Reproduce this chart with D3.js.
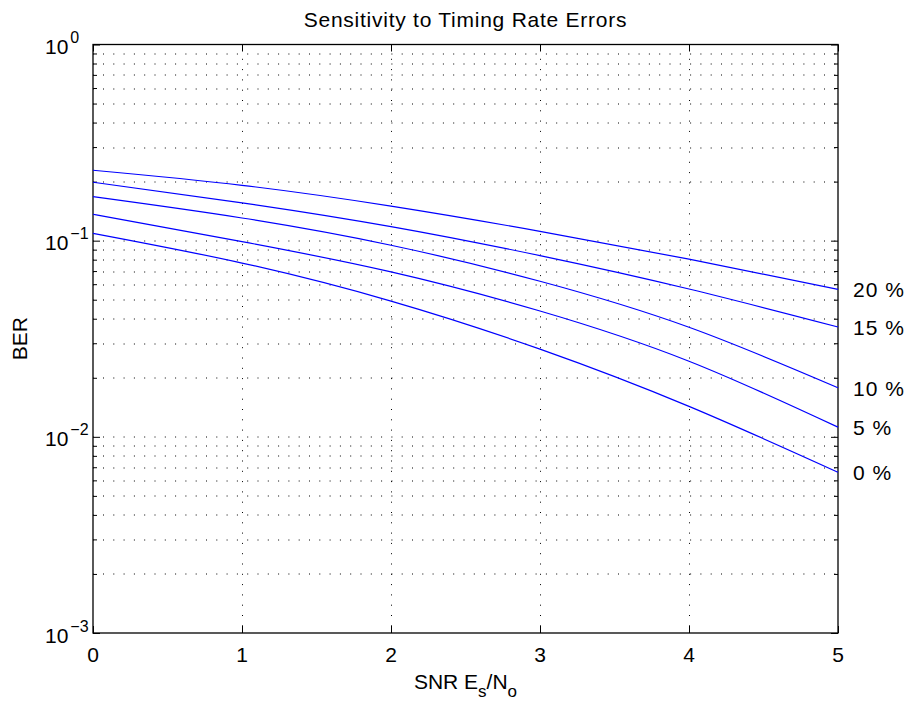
<!DOCTYPE html>
<html>
<head>
<meta charset="utf-8">
<script src="https://cdn.jsdelivr.net/npm/d3@7"></script>
<style>
  body { margin: 0; background: #fff; }
  text { font-family: "Liberation Sans", Arial, Helvetica, sans-serif; fill: #000; }
</style>
</head>
<body>
<div id="chart-area"></div>
<script>
// SNR values (x) and BER curves for each timing rate error
var snr = [0, 1, 2, 3, 4, 5];
var ber20 = [0.2285, 0.1915, 0.150, 0.1116, 0.0805, 0.0565];
var ber15 = [0.1985, 0.156, 0.118, 0.0839, 0.0567, 0.0363];
var ber10 = [0.1676, 0.1305, 0.0948, 0.0621, 0.0362, 0.0178];
var ber05 = [0.1364, 0.0989, 0.0693, 0.0438, 0.0243, 0.0112];
var ber00 = [0.109, 0.0769, 0.0492, 0.0280, 0.0143, 0.0066];
var curveLabels = ["20 %", "15 %", "10 %", "5 %", "0 %"];
var xTicks = [0, 1, 2, 3, 4, 5];
var yExponents = [0, -1, -2, -3];

var series = [ber20, ber15, ber10, ber05, ber00];

var margin = { left: 93, right: 70, top: 44.5, bottom: 69 },
    width = 908 - margin.left - margin.right,
    height = 702 - margin.top - margin.bottom;

var svg = d3.select("#chart-area").append("svg")
    .attr("width", 908)
    .attr("height", 702);

var g = svg.append("g")
    .attr("transform", "translate(" + margin.left + "," + margin.top + ")");

// Scales
var x = d3.scaleLinear().domain([0, 5]).range([0, width]);
var y = d3.scaleLog().domain([1e-3, 1]).range([height, 0]);

// minor values for log grid
var minorVals = [];
yExponents.slice(1).forEach(function (e) {
    for (var k = 2; k <= 9; k++) minorVals.push(k * Math.pow(10, e));
});
var majorVals = yExponents.map(function (e) { return Math.pow(10, e); });

var dots = "1,9.3";

// horizontal grid (major + minor)
g.selectAll("line.hgrid")
    .data(minorVals.concat(majorVals.slice(1, 3)))
    .enter().append("line")
    .attr("class", "hgrid")
    .attr("x1", 0).attr("x2", width)
    .attr("y1", function (d) { return Math.round(y(d)) + 0.5; })
    .attr("y2", function (d) { return Math.round(y(d)) + 0.5; })
    .attr("stroke", "#000")
    .attr("stroke-dasharray", dots)
    .attr("stroke-dashoffset", -10);

// vertical grid
g.selectAll("line.vgrid")
    .data(xTicks.slice(1, 5))
    .enter().append("line")
    .attr("class", "vgrid")
    .attr("y1", 0).attr("y2", height)
    .attr("x1", function (d) { return Math.round(x(d)) + 0.5; })
    .attr("x2", function (d) { return Math.round(x(d)) + 0.5; })
    .attr("stroke", "#000")
    .attr("stroke-dasharray", dots)
    .attr("stroke-dashoffset", -4);

// ticks on all four sides (inward)
var xAxisBottom = d3.axisBottom(x).tickValues(xTicks).tickSize(-7).tickFormat("");
var xAxisTop = d3.axisTop(x).tickValues(xTicks).tickSize(-7).tickFormat("");
var yMajL = d3.axisLeft(y).tickValues(majorVals).tickSize(-7).tickFormat("");
var yMajR = d3.axisRight(y).tickValues(majorVals).tickSize(-7).tickFormat("");
var yMinL = d3.axisLeft(y).tickValues(minorVals).tickSize(-4).tickFormat("");
var yMinR = d3.axisRight(y).tickValues(minorVals).tickSize(-4).tickFormat("");

g.append("g").attr("transform", "translate(0," + height + ")").call(xAxisBottom);
g.append("g").call(xAxisTop);
g.append("g").call(yMajL);
g.append("g").call(yMinL);
g.append("g").attr("transform", "translate(" + width + ",0)").call(yMajR);
g.append("g").attr("transform", "translate(" + width + ",0)").call(yMinR);

g.selectAll(".domain").remove();
g.selectAll(".tick line").attr("stroke", "#000");

// box
g.append("rect")
    .attr("x", 0).attr("y", 0)
    .attr("width", width).attr("height", height)
    .attr("fill", "none")
    .attr("stroke", "#000")
    .attr("stroke-width", 1.3);

// curves
var lineGenerator = d3.line()
    .x(function (d, i) { return x(snr[i]); })
    .y(function (d) { return y(d); })
    .curve(d3.curveNatural);

g.selectAll("path.line")
    .data(series)
    .enter().append("path")
    .attr("class", "line")
    .attr("fill", "none")
    .attr("stroke", "#0000ff")
    .attr("stroke-width", 1.2)
    .attr("d", lineGenerator);

// curve labels on the right
g.selectAll("text.clabel")
    .data(series)
    .enter().append("text")
    .attr("class", "clabel")
    .attr("x", width + 15)
    .attr("y", function (d) { return y(d[d.length - 1]) + 8; })
    .attr("font-size", "21px")
    .attr("letter-spacing", "1px")
    .text(function (d, i) { return curveLabels[i]; });

// x tick labels
g.selectAll("text.xtick")
    .data(xTicks)
    .enter().append("text")
    .attr("class", "xtick")
    .attr("x", function (d) { return x(d); })
    .attr("y", height + 29)
    .attr("text-anchor", "middle")
    .attr("font-size", "21px")
    .text(function (d) { return d; });

// y tick labels 10^e
var yLab = g.selectAll("text.ytick")
    .data(yExponents)
    .enter().append("text")
    .attr("class", "ytick")
    .attr("x", -48)
    .attr("y", function (d) { return y(Math.pow(10, d)) + 9.5; })
    .attr("font-size", "21px");
yLab.append("tspan").text("10");
yLab.append("tspan")
    .attr("font-size", "16px")
    .attr("dx", 2)
    .attr("dy", -11)
    .text(function (d) { return d === 0 ? "0" : "\u2212" + (-d); });

// title
svg.append("text")
    .attr("x", margin.left + width / 2)
    .attr("y", 27)
    .attr("text-anchor", "middle")
    .attr("font-size", "21px")
    .attr("letter-spacing", "0.75px")
    .text("Sensitivity to Timing Rate Errors");

// x label
var xl = svg.append("text")
    .attr("x", margin.left + width / 2)
    .attr("y", 689)
    .attr("text-anchor", "middle")
    .attr("font-size", "21px");
xl.append("tspan").text("SNR E");
xl.append("tspan").attr("font-size", "17px").attr("dy", 8).text("s");
xl.append("tspan").attr("dy", -8).text("/N");
xl.append("tspan").attr("font-size", "17px").attr("dy", 8).text("o");

// y label
svg.append("text")
    .attr("transform", "translate(27," + (margin.top + height / 2) + ") rotate(-90)")
    .attr("text-anchor", "middle")
    .attr("font-size", "21px")
    .text("BER");
</script>
</body>
</html>
